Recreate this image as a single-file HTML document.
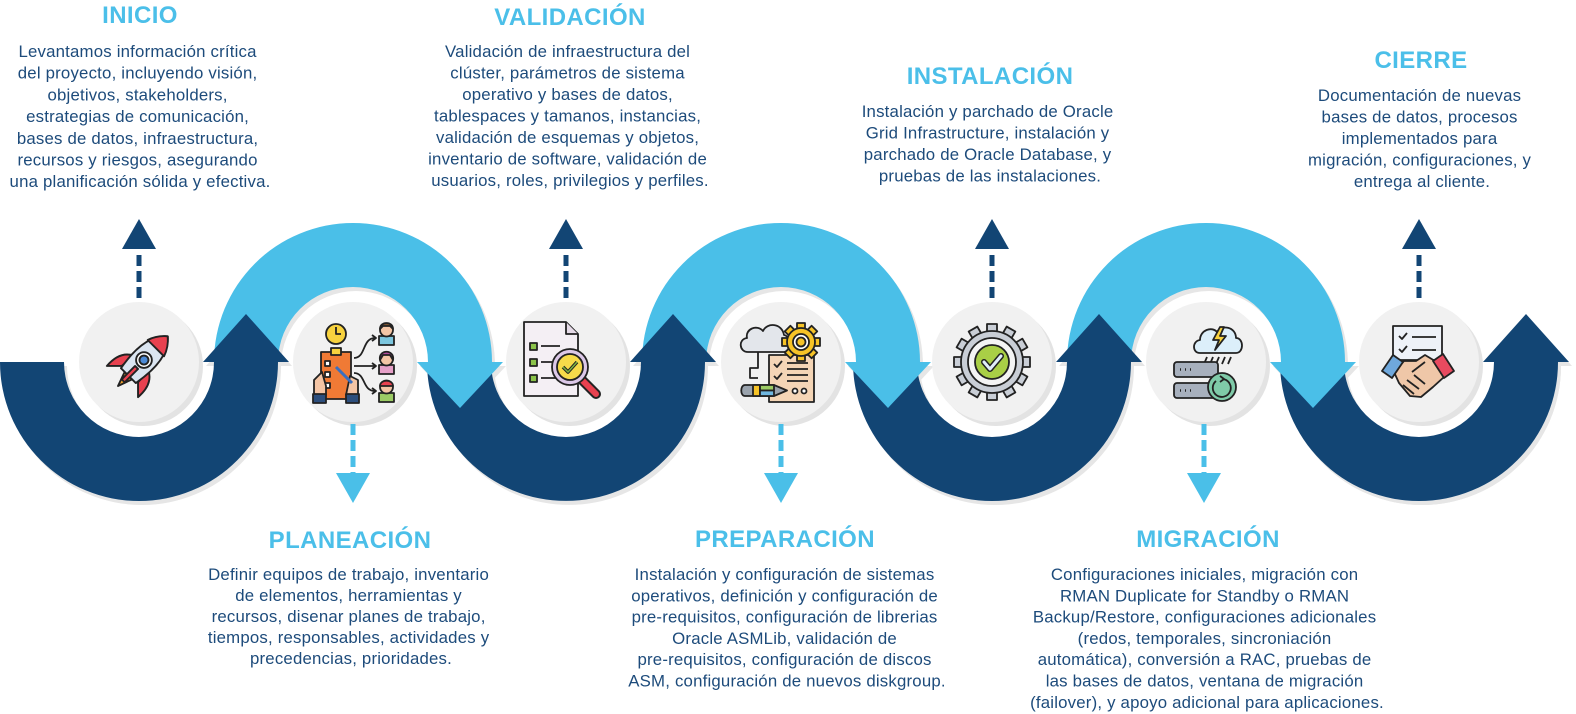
<!DOCTYPE html>
<html><head><meta charset="utf-8"><style>
html,body{margin:0;padding:0;background:#fff;}
svg{display:block;}
.t{font-family:"Liberation Sans",Arial,sans-serif;font-weight:bold;font-size:24px;fill:#4bbfe9;text-anchor:middle;letter-spacing:0.4px;}
.b{font-family:"Liberation Sans",Arial,sans-serif;font-size:16.8px;fill:#1d4b7b;text-anchor:middle;letter-spacing:0.2px;}
</style></head><body>
<svg width="1576" height="714" viewBox="0 0 1576 714" xmlns="http://www.w3.org/2000/svg">
<!-- shadows -->
<g fill="#e6e6e6" transform="translate(3,4)">
 <path d="M1280 362 A139 139 0 0 0 1558 362 L1494 362 L1526 314 L1569 362 L1494 362 A75 75 0 0 1 1344 362 Z"/>
 <path d="M1280 362 A139 139 0 0 0 1558 362 L1494 362 A75 75 0 0 1 1344 362 Z"/>
 <path d="M1067 362 A139 139 0 0 1 1345 362 L1356 362 L1313 408 L1270 362 L1281 362 A75 75 0 0 0 1131 362 Z"/>
 <path d="M853 362 A139 139 0 0 0 1131 362 L1142 362 L1099 314 L1056 362 L1067 362 A75 75 0 0 1 917 362 Z"/>
 <path d="M642 362 A139 139 0 0 1 920 362 L931 362 L888 408 L845 362 L856 362 A75 75 0 0 0 706 362 Z"/>
 <path d="M427 362 A139 139 0 0 0 705 362 L716 362 L673 314 L630 362 L641 362 A75 75 0 0 1 491 362 Z"/>
 <path d="M214 362 A139 139 0 0 1 492 362 L503 362 L460 408 L417 362 L428 362 A75 75 0 0 0 278 362 Z"/>
 <path d="M0 362 A139 139 0 0 0 278 362 L289 362 L246 314 L203 362 L214 362 A75 75 0 0 1 64 362 Z"/>
</g>
<!-- arcs in reverse order -->
<g>
 <path fill="#124574" d="M1280 362 A139 139 0 0 0 1558 362 L1494 362 A75 75 0 0 1 1344 362 Z"/>
 <path fill="#124574" d="M1483 362 L1526 314 L1569 362 Z"/>
 <path fill="#4abfe8" d="M1067 362 A139 139 0 0 1 1345 362 L1281 362 A75 75 0 0 0 1131 362 Z"/>
 <path fill="#4abfe8" d="M1270 362 L1313 408 L1356 362 Z"/>
 <path fill="#124574" d="M853 362 A139 139 0 0 0 1131 362 L1067 362 A75 75 0 0 1 917 362 Z"/>
 <path fill="#124574" d="M1056 362 L1099 314 L1142 362 Z"/>
 <path fill="#4abfe8" d="M642 362 A139 139 0 0 1 920 362 L856 362 A75 75 0 0 0 706 362 Z"/>
 <path fill="#4abfe8" d="M845 362 L888 408 L931 362 Z"/>
 <path fill="#124574" d="M427 362 A139 139 0 0 0 705 362 L641 362 A75 75 0 0 1 491 362 Z"/>
 <path fill="#124574" d="M630 362 L673 314 L716 362 Z"/>
 <path fill="#4abfe8" d="M214 362 A139 139 0 0 1 492 362 L428 362 A75 75 0 0 0 278 362 Z"/>
 <path fill="#4abfe8" d="M417 362 L460 408 L503 362 Z"/>
 <path fill="#124574" d="M0 362 A139 139 0 0 0 278 362 L214 362 A75 75 0 0 1 64 362 Z"/>
 <path fill="#124574" d="M203 362 L246 314 L289 362 Z"/>
</g>
<!-- circles -->
<g>
 <circle cx="143" cy="366" r="60" fill="#e3e3e3"/><circle cx="139" cy="362" r="60" fill="#f1f1f1"/>
 <circle cx="357" cy="366" r="60" fill="#e3e3e3"/><circle cx="353" cy="362" r="60" fill="#f1f1f1"/>
 <circle cx="570" cy="366" r="60" fill="#e3e3e3"/><circle cx="566" cy="362" r="60" fill="#f1f1f1"/>
 <circle cx="785" cy="366" r="60" fill="#e3e3e3"/><circle cx="781" cy="362" r="60" fill="#f1f1f1"/>
 <circle cx="996" cy="366" r="60" fill="#e3e3e3"/><circle cx="992" cy="362" r="60" fill="#f1f1f1"/>
 <circle cx="1210" cy="366" r="60" fill="#e3e3e3"/><circle cx="1206" cy="362" r="60" fill="#f1f1f1"/>
 <circle cx="1423" cy="366" r="60" fill="#e3e3e3"/><circle cx="1419" cy="362" r="60" fill="#f1f1f1"/>
</g>
<!-- dashed arrows up -->
<g stroke="#124574" stroke-width="5" stroke-dasharray="11 5">
 <line x1="139" y1="298" x2="139" y2="250"/>
 <line x1="566" y1="298" x2="566" y2="250"/>
 <line x1="992" y1="298" x2="992" y2="250"/>
 <line x1="1419" y1="298" x2="1419" y2="250"/>
</g>
<g fill="#124574">
 <path d="M122 249 L156 249 L139 219 Z"/>
 <path d="M549 249 L583 249 L566 219 Z"/>
 <path d="M975 249 L1009 249 L992 219 Z"/>
 <path d="M1402 249 L1436 249 L1419 219 Z"/>
</g>
<!-- dashed arrows down -->
<g stroke="#4abfe8" stroke-width="5" stroke-dasharray="11 5">
 <line x1="353" y1="424" x2="353" y2="474"/>
 <line x1="781" y1="424" x2="781" y2="474"/>
 <line x1="1204" y1="424" x2="1204" y2="474"/>
</g>
<g fill="#4abfe8">
 <path d="M336 473 L370 473 L353 503 Z"/>
 <path d="M764 473 L798 473 L781 503 Z"/>
 <path d="M1187 473 L1221 473 L1204 503 Z"/>
</g>

<!-- ICON 1 rocket -->
<g transform="translate(141,363) rotate(45) scale(1.05)" stroke="#222" stroke-width="1.8" stroke-linejoin="round">
 <path d="M-5,17 L5,17 L0,31 Z" fill="#f6a42c"/>
 <path d="M-10,0 C-18,4 -22,12 -21,25 L-11,15 Z" fill="#e8414f"/>
 <path d="M10,0 C18,4 22,12 21,25 L11,15 Z" fill="#e8414f"/>
 <path d="M0,-36 C13,-25 14,-5 10,17 L-10,17 C-14,-5 -13,-25 0,-36Z" fill="#dbe5f1"/>
 <path d="M0,-36 C6,-31 9,-26 11,-20 L-11,-20 C-9,-26 -6,-31 0,-36Z" fill="#e8414f"/>
 <circle cx="0" cy="-4" r="7.5" fill="#fff"/>
 <circle cx="0" cy="-4" r="4.3" fill="#4c8ad6"/>
 <path d="M-2,6 L2,6 L2,24 L-2,24 Z" fill="#e8414f"/>
</g>

<!-- ICON 2 planning -->
<g stroke="#222" stroke-width="1.8" stroke-linejoin="round">
 <circle cx="336" cy="334" r="10" fill="#f7d23e"/>
 <path d="M336,327 L336,334 L341,334" fill="none"/>
 <rect x="321" y="352" width="30" height="47" fill="#f07a35"/>
 <rect x="331" y="348" width="10" height="7" fill="#f7d23e"/>
 <rect x="325" y="361" width="5" height="5" fill="#fff"/>
 <rect x="325" y="372" width="5" height="5" fill="#fff"/>
 <rect x="325" y="383" width="5" height="5" fill="#fff"/>
 <path d="M314,380 L322,372 L326,386 L326,395 L314,395 Z" fill="#f4c5a5"/>
 <rect x="313" y="394" width="13" height="9" fill="#2c4e7c"/>
 <path d="M350,376 L358,380 L358,395 L346,395 Z" fill="#f4c5a5"/>
 <rect x="346" y="394" width="13" height="9" fill="#2c4e7c"/>
 <path d="M336,367 L352,383" stroke="#3a6fc0" stroke-width="3"/>
 <path d="M354,358 C366,358 362,338 375,338" fill="none"/>
 <path d="M354,366 L375,366" fill="none"/>
 <path d="M354,373 C366,373 362,391 375,391" fill="none"/>
 <path d="M372,335 L376,338 L372,341" fill="none"/>
 <path d="M372,363 L376,366 L372,369" fill="none"/>
 <path d="M372,388 L376,391 L372,394" fill="none"/>
 <rect x="379" y="336" width="15" height="9" fill="#7cc6de"/>
 <circle cx="386.5" cy="330" r="6.5" fill="#f4c5a5"/>
 <path d="M380,329 C380,321 393,321 393,329 L390,326 L383,326 Z" fill="#7a5230"/>
 <rect x="379" y="365" width="15" height="9" fill="#e6a0c8"/>
 <circle cx="386.5" cy="359" r="6.5" fill="#f4c5a5"/>
 <path d="M380,360 C378,349 395,349 393,360 L390,355 L383,355 Z" fill="#b04a9a"/>
 <rect x="379" y="393" width="15" height="9" fill="#9ccc65"/>
 <circle cx="386.5" cy="387" r="6.5" fill="#f4c5a5"/>
 <path d="M380,386 C380,379 393,379 393,386 Z" fill="#e8414f"/>
</g>

<!-- ICON 3 document with magnifier -->
<g stroke="#222" stroke-width="1.8" stroke-linejoin="round">
 <path d="M524,322 L566,322 L578,334 L578,396 L524,396 Z" fill="#f4eff4"/>
 <path d="M566,322 L566,334 L578,334" fill="#e6dbe8"/>
 <rect x="530" y="343" width="7" height="7" fill="#8bc34a"/>
 <rect x="530" y="359" width="7" height="7" fill="#8bc34a"/>
 <rect x="530" y="375" width="7" height="7" fill="#8bc34a"/>
 <path d="M541,346 L560,346 M541,362 L556,362 M541,378 L556,378" fill="none"/>
 <path d="M582,380 L596,394" stroke="#222" stroke-width="10" stroke-linecap="round"/>
 <path d="M582,380 L596,394" stroke="#e8414f" stroke-width="6" stroke-linecap="round"/>
 <circle cx="570" cy="367" r="18" fill="#dcc8e8"/>
 <circle cx="570" cy="367" r="13" fill="#f6da4a"/>
 <path d="M563,367 L568,372 L577,362" fill="none" stroke-width="3.5"/>
 <path d="M563,367 L568,372 L577,362" fill="none" stroke="#7cb342" stroke-width="1.5"/>
</g>

<!-- ICON 4 cloud gear doc -->
<g stroke="#222" stroke-width="1.8" stroke-linejoin="round">
 <path d="M748,352 C739,352 738,339 747,338 C745,329 757,324 763,331 C767,322 782,323 784,335 C791,336 791,352 784,352 Z" fill="#e3e6eb"/>
 <path d="M758,352 L758,368 L750,368 L750,378 L758,378" fill="none"/>
 <rect x="769" y="355" width="45" height="47" fill="#f4d5b6"/>
 <path d="M774,364 L777,367 L782,361 M774,376 L777,379 L782,373" fill="none"/>
 <path d="M787,363 L808,363 M787,369 L808,369 M787,375 L808,375 M787,381 L808,381" fill="none"/>
 <circle cx="795" cy="391" r="2.5" fill="#fff"/><circle cx="804" cy="391" r="2.5" fill="#fff"/>
 <g transform="translate(801,342)" fill="#f6c327">
  <rect x="-4" y="-19" width="8" height="38"/>
  <rect x="-4" y="-19" width="8" height="38" transform="rotate(45)"/>
  <rect x="-4" y="-19" width="8" height="38" transform="rotate(90)"/>
  <rect x="-4" y="-19" width="8" height="38" transform="rotate(135)"/>
  <circle r="14"/>
  <circle r="8" fill="#fff"/>
  <circle r="4.5" fill="#f6c327"/>
 </g>
 <path d="M745,385 L774,385 L787,390.5 L774,396 L745,396 C740,396 740,385 745,385 Z" fill="#9aa3ad"/>
 <rect x="753" y="385" width="7" height="11" fill="#f6c327"/>
 <rect x="760" y="385" width="14" height="5.5" fill="#9ccc65"/>
 <rect x="760" y="390.5" width="14" height="5.5" fill="#6fb7e0"/>
</g>

<!-- ICON 5 gear with check -->
<g transform="translate(992,362)" stroke="#222" stroke-width="1.8" stroke-linejoin="round">
 <g fill="#c9ced6">
  <rect x="-5" y="-38" width="10" height="76"/>
  <rect x="-5" y="-38" width="10" height="76" transform="rotate(30)"/>
  <rect x="-5" y="-38" width="10" height="76" transform="rotate(60)"/>
  <rect x="-5" y="-38" width="10" height="76" transform="rotate(90)"/>
  <rect x="-5" y="-38" width="10" height="76" transform="rotate(120)"/>
  <rect x="-5" y="-38" width="10" height="76" transform="rotate(150)"/>
  <circle r="31"/>
 </g>
 <circle r="24" fill="#f4f4f4"/>
 <circle r="17" fill="#a9cf46"/>
 <path d="M-8,0 L-2,7 L9,-6" fill="none" stroke-width="6" stroke-linecap="round"/>
 <path d="M-8,0 L-2,7 L9,-6" fill="none" stroke="#e1effa" stroke-width="3" stroke-linecap="round"/>
</g>

<!-- ICON 6 cloud servers -->
<g stroke="#222" stroke-width="1.8" stroke-linejoin="round">
 <path d="M1200,353 C1192,353 1192,341 1200,340 C1200,330 1212,326 1217,332 C1222,324 1236,327 1236,338 C1244,338 1244,353 1236,353 Z" fill="#dceffa"/>
 <path d="M1220,327 L1213,340 L1219,340 L1215,350 L1226,336 L1220,336 L1224,327 Z" fill="#f7d23e"/>
 <path d="M1207,357 L1204,364 M1213,357 L1210,364 M1219,357 L1216,364 M1225,357 L1222,364 M1231,357 L1228,364" fill="none"/>
 <rect x="1174" y="362" width="44" height="15" rx="3" fill="#a7b0bd"/>
 <rect x="1174" y="383" width="44" height="15" rx="3" fill="#a7b0bd"/>
 <path d="M1180,369.5 L1181,369.5 M1185,369.5 L1186,369.5 M1190,369.5 L1191,369.5 M1180,390.5 L1181,390.5 M1185,390.5 L1186,390.5 M1190,390.5 L1191,390.5" stroke-width="2.5"/>
 <circle cx="1222" cy="387" r="14" fill="#7fcaa8"/>
 <path d="M1216,381 A9 9 0 1 0 1223,379" fill="none"/>
 <path d="M1220,376 L1224,379 L1220,382" fill="none"/>
</g>

<!-- ICON 7 handshake -->
<g stroke="#222" stroke-width="1.8" stroke-linejoin="round">
 <rect x="1393" y="326" width="49" height="34" fill="#eef2f8"/>
 <path d="M1399,336 L1402,339 L1407,333 M1399,349 L1402,352 L1407,346" fill="none"/>
 <path d="M1412,337 L1436,337 M1412,350 L1436,350" fill="none"/>
 <path d="M1394,372 L1404,361 L1416,361 L1425,355 L1435,361 L1444,377 L1433,387 L1421,397 L1410,396 L1399,383 Z" fill="#efc7a8"/>
 <path d="M1412,372 L1425,362 M1407,380 L1419,389 M1403,385 L1414,394 M1414,375 L1425,384" fill="none"/>
 <path d="M1382,371 L1393,355 L1403,362 L1392,378 Z" fill="#6fa8dc"/>
 <path d="M1433,361 L1443,354 L1454,371 L1444,378 Z" fill="#e84a5f"/>
</g>

<!-- TEXT TOP -->
<text class="t" x="140" y="23">INICIO</text>
<text class="b">
 <tspan x="140" y="57">Levantamos información crítica</tspan>
 <tspan x="140" y="78.7">del proyecto, incluyendo visión,</tspan>
 <tspan x="140" y="100.4">objetivos, stakeholders,</tspan>
 <tspan x="140" y="122.1">estrategias de comunicación,</tspan>
 <tspan x="140" y="143.8">bases de datos, infraestructura,</tspan>
 <tspan x="140" y="165.5">recursos y riesgos, asegurando</tspan>
 <tspan x="140" y="187.2">una planificación sólida y efectiva.</tspan>
</text>

<text class="t" x="570" y="25">VALIDACIÓN</text>
<text class="b">
 <tspan x="570" y="57">Validación de infraestructura del</tspan>
 <tspan x="570" y="78.5">clúster, parámetros de sistema</tspan>
 <tspan x="570" y="100">operativo y bases de datos,</tspan>
 <tspan x="570" y="121.5">tablespaces y tamanos, instancias,</tspan>
 <tspan x="570" y="143">validación de esquemas y objetos,</tspan>
 <tspan x="570" y="164.5">inventario de software, validación de</tspan>
 <tspan x="570" y="186">usuarios, roles, privilegios y perfiles.</tspan>
</text>

<text class="t" x="990" y="84">INSTALACIÓN</text>
<text class="b">
 <tspan x="990" y="117">Instalación y parchado de Oracle</tspan>
 <tspan x="990" y="138.5">Grid Infrastructure, instalación y</tspan>
 <tspan x="990" y="160">parchado de Oracle Database, y</tspan>
 <tspan x="990" y="181.5">pruebas de las instalaciones.</tspan>
</text>

<text class="t" x="1421" y="68">CIERRE</text>
<text class="b">
 <tspan x="1422" y="101">Documentación de nuevas</tspan>
 <tspan x="1422" y="122.5">bases de datos, procesos</tspan>
 <tspan x="1422" y="144">implementados para</tspan>
 <tspan x="1422" y="165.5">migración, configuraciones, y</tspan>
 <tspan x="1422" y="187">entrega al cliente.</tspan>
</text>

<!-- TEXT BOTTOM -->
<text class="t" x="350" y="548">PLANEACIÓN</text>
<text class="b">
 <tspan x="351" y="580">Definir equipos de trabajo, inventario</tspan>
 <tspan x="351" y="601">de elementos, herramientas y</tspan>
 <tspan x="351" y="622">recursos, disenar planes de trabajo,</tspan>
 <tspan x="351" y="643">tiempos, responsables, actividades y</tspan>
 <tspan x="351" y="664">precedencias, prioridades.</tspan>
</text>

<text class="t" x="785" y="547">PREPARACIÓN</text>
<text class="b">
 <tspan x="787" y="580">Instalación y configuración de sistemas</tspan>
 <tspan x="787" y="601.3">operativos, definición y configuración de</tspan>
 <tspan x="787" y="622.6">pre-requisitos, configuración de librerias</tspan>
 <tspan x="787" y="643.9">Oracle ASMLib, validación de</tspan>
 <tspan x="787" y="665.2">pre-requisitos, configuración de discos</tspan>
 <tspan x="787" y="686.5">ASM, configuración de nuevos diskgroup.</tspan>
</text>

<text class="t" x="1208" y="547">MIGRACIÓN</text>
<text class="b">
 <tspan x="1207" y="580">Configuraciones iniciales, migración con</tspan>
 <tspan x="1207" y="601.3">RMAN Duplicate for Standby o RMAN</tspan>
 <tspan x="1207" y="622.6">Backup/Restore, configuraciones adicionales</tspan>
 <tspan x="1207" y="643.9">(redos, temporales, sincroniación</tspan>
 <tspan x="1207" y="665.2">automática), conversión a RAC, pruebas de</tspan>
 <tspan x="1207" y="686.5">las bases de datos, ventana de migración</tspan>
 <tspan x="1207" y="707.8">(failover), y apoyo adicional para aplicaciones.</tspan>
</text>
</svg>
</body></html>
